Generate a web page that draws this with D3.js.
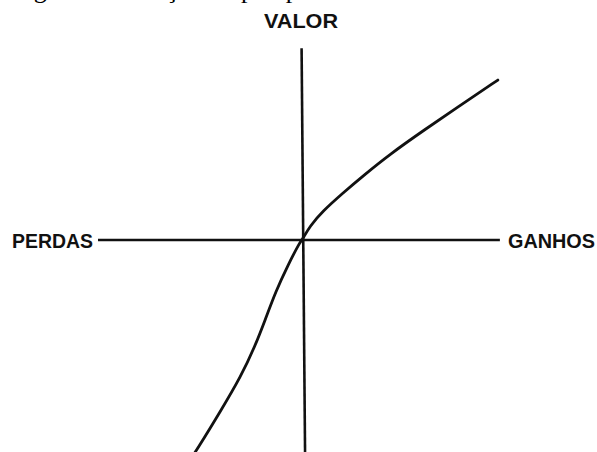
<!DOCTYPE html>
<html>
<head>
<meta charset="utf-8">
<script src="https://cdn.jsdelivr.net/npm/d3@7"></script>
<style>
  html, body { margin: 0; padding: 0; background: #fff; }
  svg { display: block; }
</style>
</head>
<body>
<script>
var w = 597;
var h = 452;

// value curve (gains / losses, arbitrary units)
var gainX = [0, 4, 10, 20, 30, 43, 60, 78, 96];
var gainY = [0, 7, 14, 23, 31.5, 42, 54, 66.3, 78.4];
var lossX = [-1, -7, -13, -18, -23, -30, -40, -51, -55];
var lossY = [-1, -12.5, -25.5, -39, -52, -67, -84, -102, -108];

// axis ends
var hAxisX = [-100, 97];
var vAxisX = [-0.2, 1.5];
var vAxisY = [94, -104];

var labels = ["VALOR", "PERDAS", "GANHOS"];
var caption = "Figura 2 – Função do prospecto";

var x = d3.scaleLinear().domain([-100, 100]).range([98, 506]);
var y = d3.scaleLinear().domain([-100, 100]).range([444, 36]);

var svg = d3.select("body").append("svg").attr("width", w).attr("height", h);

// cut-off caption line at the very top (only descenders show)
svg.append("text")
  .attr("x", 12)
  .attr("y", -2.5)
  .attr("font-family", "Liberation Serif, serif")
  .attr("font-size", "26px")
  .attr("fill", "#000")
  .text(caption);

//axes
svg.append("line")
  .attr("x1", x(hAxisX[0])).attr("y1", y(0))
  .attr("x2", x(hAxisX[1])).attr("y2", y(0))
  .attr("stroke", "#111").attr("stroke-width", 2.6);

svg.append("line")
  .attr("x1", x(vAxisX[0])).attr("y1", y(vAxisY[0]))
  .attr("x2", x(vAxisX[1])).attr("y2", y(vAxisY[1]))
  .attr("stroke", "#111").attr("stroke-width", 2.6);

// curve points, losses reversed so the path runs left to right
var pts = [];
for (var i = lossX.length - 1; i >= 0; i--) pts.push([lossX[i], lossY[i]]);
for (var j = 0; j < gainX.length; j++) pts.push([gainX[j], gainY[j]]);

var line = d3.line()
  .x(function (d) { return x(d[0]); })
  .y(function (d) { return y(d[1]); })
  .curve(d3.curveBasis);

svg.append("path")
  .datum(pts)
  .attr("d", line)
  .attr("fill", "none")
  .attr("stroke", "#111")
  .attr("stroke-width", 2.8)
  .attr("stroke-linecap", "round");

// labels
function label(t, px, py, anchor, len) {
  svg.append("text")
    .attr("x", px)
    .attr("y", py)
    .attr("text-anchor", anchor)
    .attr("font-family", "Liberation Sans, Arial, sans-serif")
    .attr("font-weight", "bold")
    .attr("font-size", "20px")
    .attr("textLength", len)
    .attr("lengthAdjust", "spacingAndGlyphs")
    .attr("fill", "#111")
    .text(t);
}

label(labels[0], 264, 28, "start", 74);
label(labels[1], 12, 248, "start", 81);
label(labels[2], 508, 248, "start", 87);
</script>
</body>
</html>
